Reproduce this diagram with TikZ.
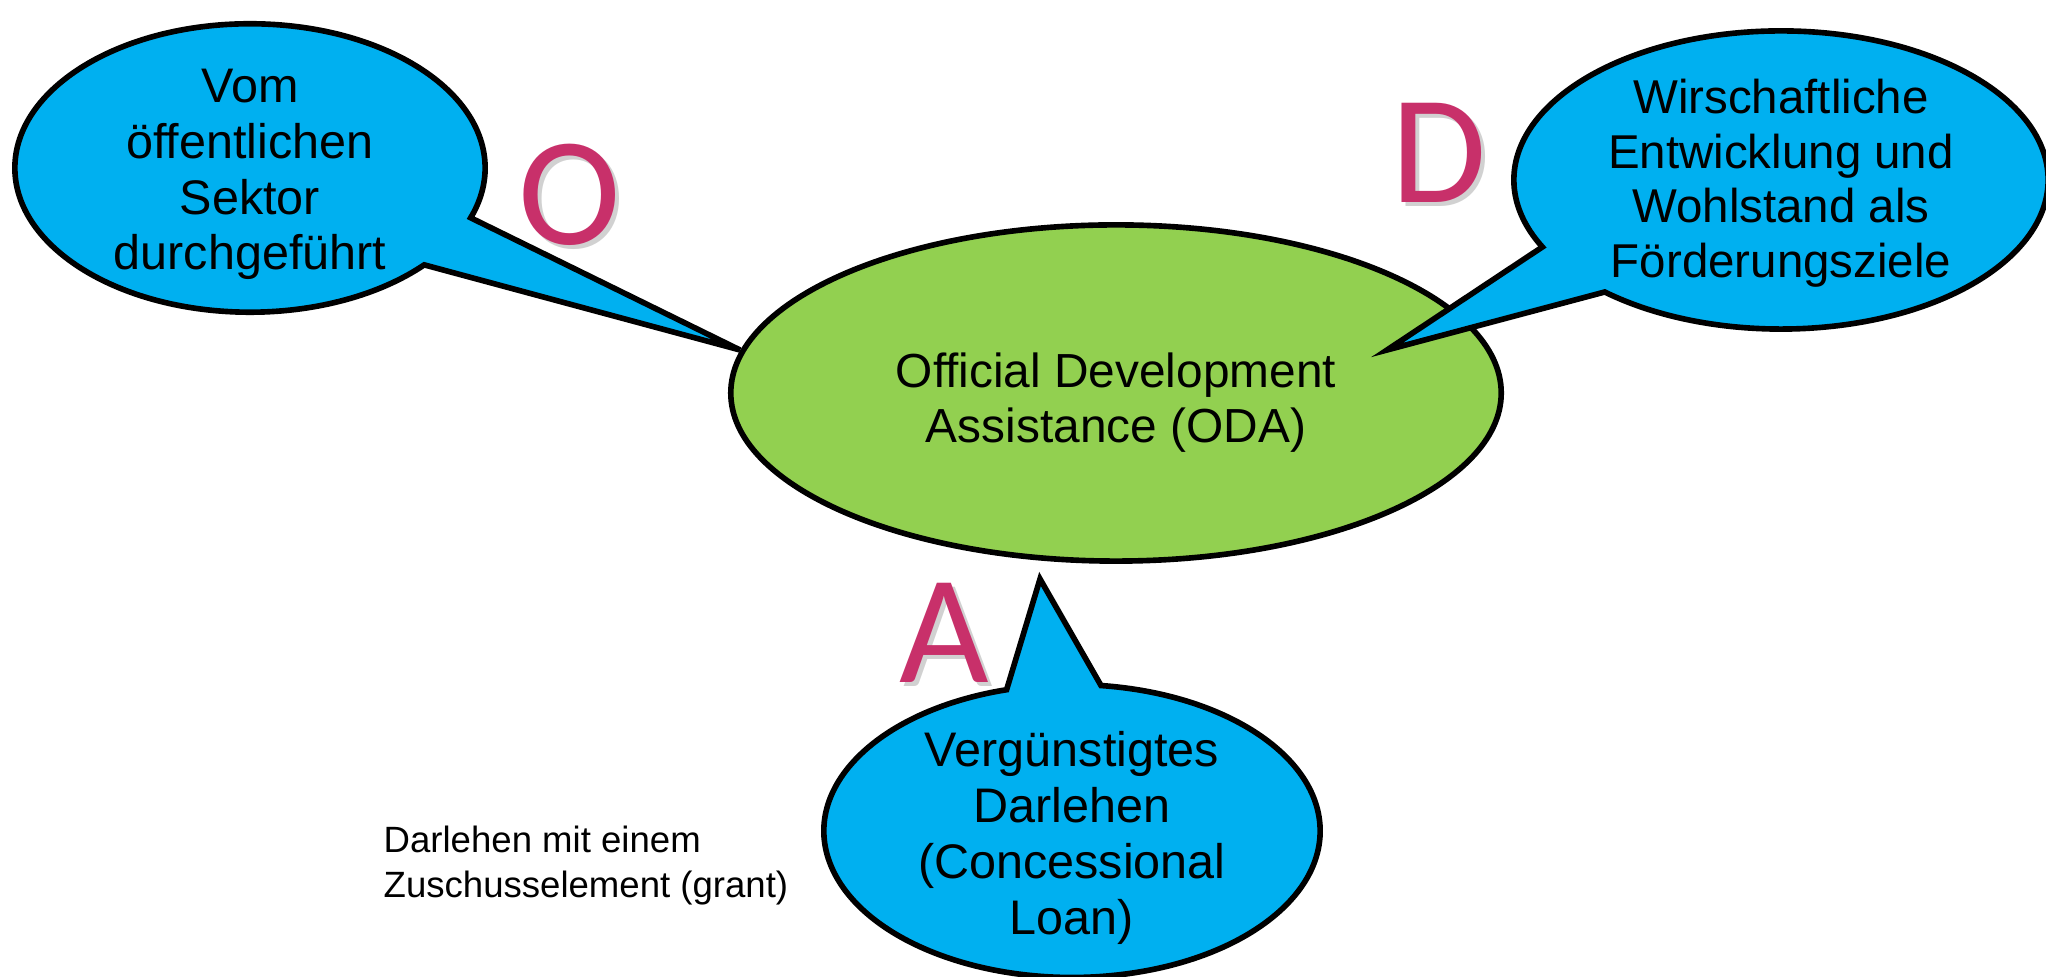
\documentclass[tikz,border=0pt]{standalone}
\usepackage{fontspec}
\setmainfont{Liberation Sans}
\newfontfamily\letterfont{Carlito}
\usetikzlibrary{shapes.geometric, shapes.callouts, positioning}

\definecolor{bubbleblue}{HTML}{00B0F0}
\definecolor{odagreen}{HTML}{92D050}
\definecolor{letterpink}{HTML}{C8306A}

\begin{document}
\begin{tikzpicture}[
    x=0.01cm, y=-0.01cm,
    bubble/.style  = {ellipse callout, draw=black, line width=1.6pt,
                      fill=bubbleblue, align=center, inner sep=0pt,
                      callout pointer arc=22,
                      font=\fontsize{13.8}{15.9}\selectfont},
    core/.style    = {ellipse, draw=black, line width=1.6pt, fill=odagreen,
                      align=center, inner sep=0pt,
                      text height=28.3pt, text depth=0.3pt,
                      minimum width=7.7cm, minimum height=3.36cm,
                      font=\fontsize{13.6}{15.6}\selectfont},
    initial/.style = {font=\letterfont\fontsize{44}{44}\selectfont,
                      text=letterpink, inner sep=0pt},
    shade/.style   = {initial, text=black, opacity=0.18},
    note/.style    = {align=left, anchor=west, inner sep=0pt,
                      font=\fontsize{10.4}{12.8}\selectfont}
]
\useasboundingbox (0,0) rectangle (2046,977);

% ========= centre =========
\node[core] (oda) at (1116,393) {Official Development\\Assistance (ODA)};

% ========= pointer tips =========
\coordinate (tipO) at (740,350);
\coordinate (tipD) at (1387,350);
\coordinate (tipA) at (1040,579);

% ========= speech bubbles =========
\node[bubble, minimum width=4.7cm, minimum height=2.86cm,
      text height=58pt, text depth=-1.5pt,
      callout absolute pointer=(tipO)]
      (sector) at (250,168) {Vom\\öffentlichen\\Sektor\\durchgeführt};
\node[bubble, minimum width=5.34cm, minimum height=2.98cm,
      font=\fontsize{13.5}{15.5}\selectfont,
      text height=56.5pt, text depth=1.2pt,
      callout absolute pointer=(tipD)]
      (goals) at (1781,180) {Wirschaftliche\\Entwicklung und\\Wohlstand als\\Förderungsziele};
\node[bubble, minimum width=4.96cm, minimum height=2.83cm,
      text height=58.9pt, text depth=-2.4pt,
      callout absolute pointer=(tipA)]
      (loan) at (1072,831) {Vergünstigtes\\Darlehen\\(Concessional\\Loan)};

% ========= initials =========
\coordinate (posO) at (570,195);
\coordinate (posD) at (1439,153);
\coordinate (posA) at (944,633);
\node[shade] at ([shift={(4,4)}]posO) {O};
\node[initial] (letO) at (posO) {O};
\node[shade] at ([shift={(4,4)}]posD) {D};
\node[initial] (letD) at (posD) {D};
\node[shade] at ([shift={(4,4)}]posA) {A};
\node[initial] (letA) at (posA) {A};

% ========= side note =========
\node[note] (grant) at (383,866) {Darlehen mit einem\\Zuschusselement (grant)};
\end{tikzpicture}
\end{document}
